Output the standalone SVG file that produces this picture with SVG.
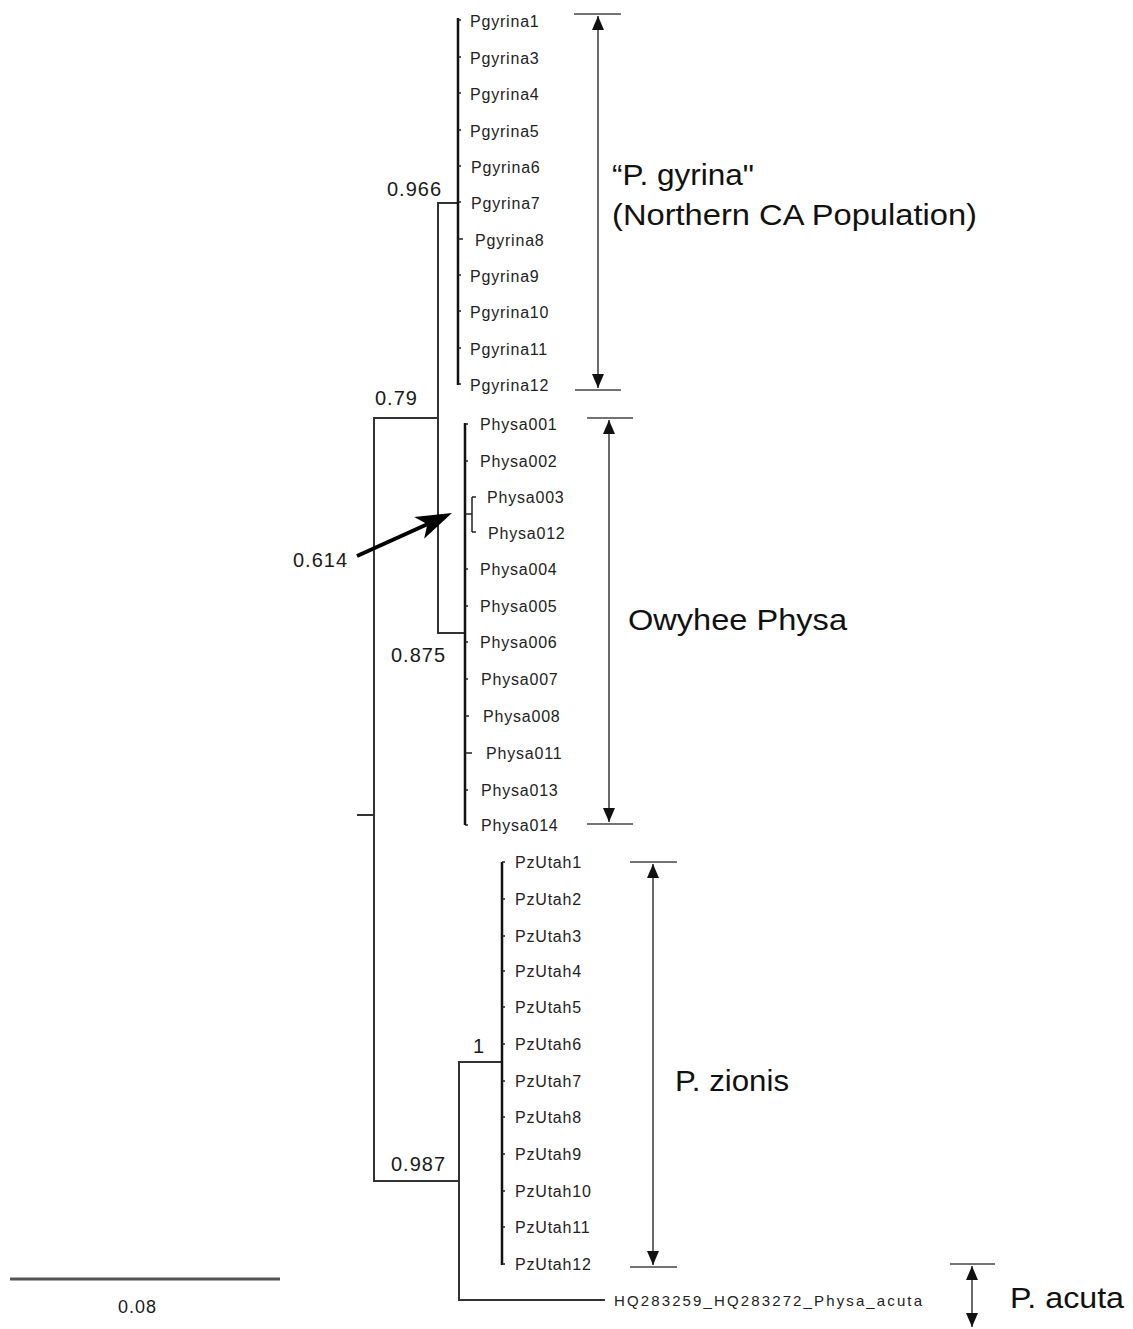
<svg xmlns="http://www.w3.org/2000/svg" width="1133" height="1329" viewBox="0 0 1133 1329">
<style>
  .bg { fill: #ffffff; }
  .br { stroke: #333333; stroke-width: 2; fill: none; stroke-linecap: square; }
  .cl { stroke: #111111; stroke-width: 2.5; fill: none; }
  .tk { stroke: #222222; stroke-width: 1.5; fill: none; }
  .bk { stroke: #444444; stroke-width: 1.6; fill: none; }
  .leaf { font-family: "Liberation Sans", Arial, sans-serif; font-size: 16px; letter-spacing: 0.8px; fill: #222222; }
  .hq { font-family: "Liberation Sans", Arial, sans-serif; font-size: 15px; fill: #222222; }
  .sup { font-family: "Liberation Sans", Arial, sans-serif; font-size: 20px; letter-spacing: 1px; fill: #1a1a1a; }
  .big { font-family: "Liberation Sans", Arial, sans-serif; font-size: 30px; fill: #111111; }
  .scale { stroke: #555555; stroke-width: 3; }
</style>
<defs>
  <marker id="tri" viewBox="0 0 14 12" refX="14" refY="6" markerWidth="14" markerHeight="12" markerUnits="userSpaceOnUse" orient="auto-start-reverse">
    <path d="M0,0 L14,6 L0,12 z" fill="#111111"/>
  </marker>
  <marker id="bigarrow" viewBox="0 0 36 24" refX="21" refY="12" markerWidth="36" markerHeight="24" markerUnits="userSpaceOnUse" orient="auto">
    <path d="M0,0 L36,12 L0,24 L9,12 z" fill="#000000"/>
  </marker>
</defs>
<rect class="bg" x="0" y="0" width="1133" height="1329"/>

<g id="connectors">
  <!-- backbone -->
  <line class="br" x1="358" y1="815" x2="374" y2="815"/>
  <line class="br" x1="374" y1="418" x2="374" y2="1181"/>
  <line class="br" x1="374" y1="418" x2="438" y2="418"/>
  <line class="br" x1="438" y1="203" x2="438" y2="633"/>
  <line class="br" x1="438" y1="203" x2="458" y2="203"/>
  <line class="br" x1="438" y1="633" x2="465" y2="633"/>
  <line class="br" x1="374" y1="1181" x2="459" y2="1181"/>
  <line class="br" x1="459" y1="1062" x2="459" y2="1300"/>
  <line class="br" x1="459" y1="1062" x2="502" y2="1062"/>
  <line class="br" x1="459" y1="1300" x2="604" y2="1300"/>
  <!-- clade verticals -->
  <line class="cl" x1="458" y1="18" x2="458" y2="385"/>
  <line class="cl" x1="465" y1="423" x2="465" y2="825"/>
  <line class="cl" x1="502" y1="862" x2="502" y2="1265"/>
  <!-- Physa003/012 subclade -->
  <line class="tk" x1="465" y1="514" x2="472" y2="514"/>
  <line class="tk" x1="472" y1="497" x2="472" y2="532"/>
  <line class="tk" x1="472" y1="497" x2="476" y2="497"/>
  <line class="tk" x1="472" y1="532" x2="476" y2="532"/>
  <!-- leaf ticks Pgyrina -->
  <path class="tk" d="M458,20 h3 M458,57 h3 M458,93 h3 M458,130 h3 M458,166 h3 M458,202 h3 M458,239 h5 M458,275 h3 M458,311 h3 M458,348 h3 M458,384 h3"/>
  <!-- leaf ticks Physa -->
  <path class="tk" d="M465,424 h3 M465,461 h3 M465,569 h3 M465,606 h3 M465,642 h3 M465,679 h3 M465,716 h4 M465,753 h7 M465,790 h3 M465,825 h3"/>
  <!-- leaf ticks PzUtah -->
  <path class="tk" d="M502,862 h3 M502,899 h3 M502,936 h3 M502,971 h3 M502,1007 h3 M502,1044 h3 M502,1081 h3 M502,1117 h3 M502,1154 h3 M502,1191 h3 M502,1227 h3 M502,1264 h3"/>
  <!-- pointer arrow for 0.614 -->
  <line x1="357" y1="556" x2="438.3" y2="519.2" stroke="#000000" stroke-width="4" marker-end="url(#bigarrow)"/>
  <!-- brackets -->
  <line class="bk" x1="574" y1="14" x2="621" y2="14"/>
  <line class="bk" x1="575" y1="390" x2="621" y2="390"/>
  <line class="bk" x1="598" y1="16" x2="598" y2="388" marker-start="url(#tri)" marker-end="url(#tri)"/>
  <line class="bk" x1="587" y1="418" x2="633" y2="418"/>
  <line class="bk" x1="587" y1="824" x2="633" y2="824"/>
  <line class="bk" x1="609" y1="420" x2="609" y2="822" marker-start="url(#tri)" marker-end="url(#tri)"/>
  <line class="bk" x1="630" y1="862" x2="677" y2="862"/>
  <line class="bk" x1="630" y1="1267" x2="677" y2="1267"/>
  <line class="bk" x1="653" y1="864" x2="653" y2="1265" marker-start="url(#tri)" marker-end="url(#tri)"/>
  <line class="bk" x1="950" y1="1264" x2="995" y2="1264"/>
  <line class="bk" x1="972" y1="1266" x2="972" y2="1327" marker-start="url(#tri)" marker-end="url(#tri)"/>
  <!-- scale bar -->
  <line class="scale" x1="10" y1="1279" x2="280" y2="1279"/>
</g>

<g id="support-values">
  <text class="sup" x="387" y="196">0.966</text>
  <text class="sup" x="375" y="405">0.79</text>
  <text class="sup" x="293" y="567">0.614</text>
  <text class="sup" x="391" y="662">0.875</text>
  <text class="sup" x="391" y="1171">0.987</text>
  <text class="sup" x="473" y="1053">1</text>
  <text class="sup" x="118" y="1313" style="font-size:18px">0.08</text>
</g>

<g id="clade-pgyrina">
  <text class="leaf" x="470" y="27">Pgyrina1</text>
  <text class="leaf" x="470" y="64">Pgyrina3</text>
  <text class="leaf" x="470" y="100">Pgyrina4</text>
  <text class="leaf" x="470" y="137">Pgyrina5</text>
  <text class="leaf" x="471" y="173">Pgyrina6</text>
  <text class="leaf" x="471" y="209">Pgyrina7</text>
  <text class="leaf" x="475" y="246">Pgyrina8</text>
  <text class="leaf" x="470" y="282">Pgyrina9</text>
  <text class="leaf" x="470" y="318">Pgyrina10</text>
  <text class="leaf" x="470" y="355">Pgyrina11</text>
  <text class="leaf" x="470" y="391">Pgyrina12</text>
</g>

<g id="clade-physa">
  <text class="leaf" x="480" y="430">Physa001</text>
  <text class="leaf" x="480" y="467">Physa002</text>
  <text class="leaf" x="487" y="503">Physa003</text>
  <text class="leaf" x="488" y="539">Physa012</text>
  <text class="leaf" x="480" y="575">Physa004</text>
  <text class="leaf" x="480" y="612">Physa005</text>
  <text class="leaf" x="480" y="648">Physa006</text>
  <text class="leaf" x="481" y="685">Physa007</text>
  <text class="leaf" x="483" y="722">Physa008</text>
  <text class="leaf" x="486" y="759">Physa011</text>
  <text class="leaf" x="481" y="796">Physa013</text>
  <text class="leaf" x="481" y="831">Physa014</text>
</g>

<g id="clade-pzutah">
  <text class="leaf" x="515" y="868">PzUtah1</text>
  <text class="leaf" x="515" y="905">PzUtah2</text>
  <text class="leaf" x="515" y="942">PzUtah3</text>
  <text class="leaf" x="515" y="977">PzUtah4</text>
  <text class="leaf" x="515" y="1013">PzUtah5</text>
  <text class="leaf" x="515" y="1050">PzUtah6</text>
  <text class="leaf" x="515" y="1087">PzUtah7</text>
  <text class="leaf" x="515" y="1123">PzUtah8</text>
  <text class="leaf" x="515" y="1160">PzUtah9</text>
  <text class="leaf" x="515" y="1197">PzUtah10</text>
  <text class="leaf" x="515" y="1233">PzUtah11</text>
  <text class="leaf" x="515" y="1270">PzUtah12</text>
</g>

<g id="outgroup">
  <text class="hq" x="614" y="1306" textLength="308" lengthAdjust="spacing">HQ283259_HQ283272_Physa_acuta</text>
</g>

<g id="label-pgyrina">
  <text class="big" x="612" y="185" textLength="142" lengthAdjust="spacingAndGlyphs">“P. gyrina"</text>
  <text class="big" x="612" y="225" textLength="365" lengthAdjust="spacingAndGlyphs">(Northern CA Population)</text>
</g>
<g id="label-owyhee">
  <text class="big" x="628" y="630" textLength="219" lengthAdjust="spacingAndGlyphs">Owyhee Physa</text>
</g>
<g id="label-zionis">
  <text class="big" x="675" y="1091" textLength="114" lengthAdjust="spacingAndGlyphs">P. zionis</text>
</g>
<g id="label-acuta">
  <text class="big" x="1010" y="1308" textLength="114" lengthAdjust="spacingAndGlyphs">P. acuta</text>
</g>
</svg>
